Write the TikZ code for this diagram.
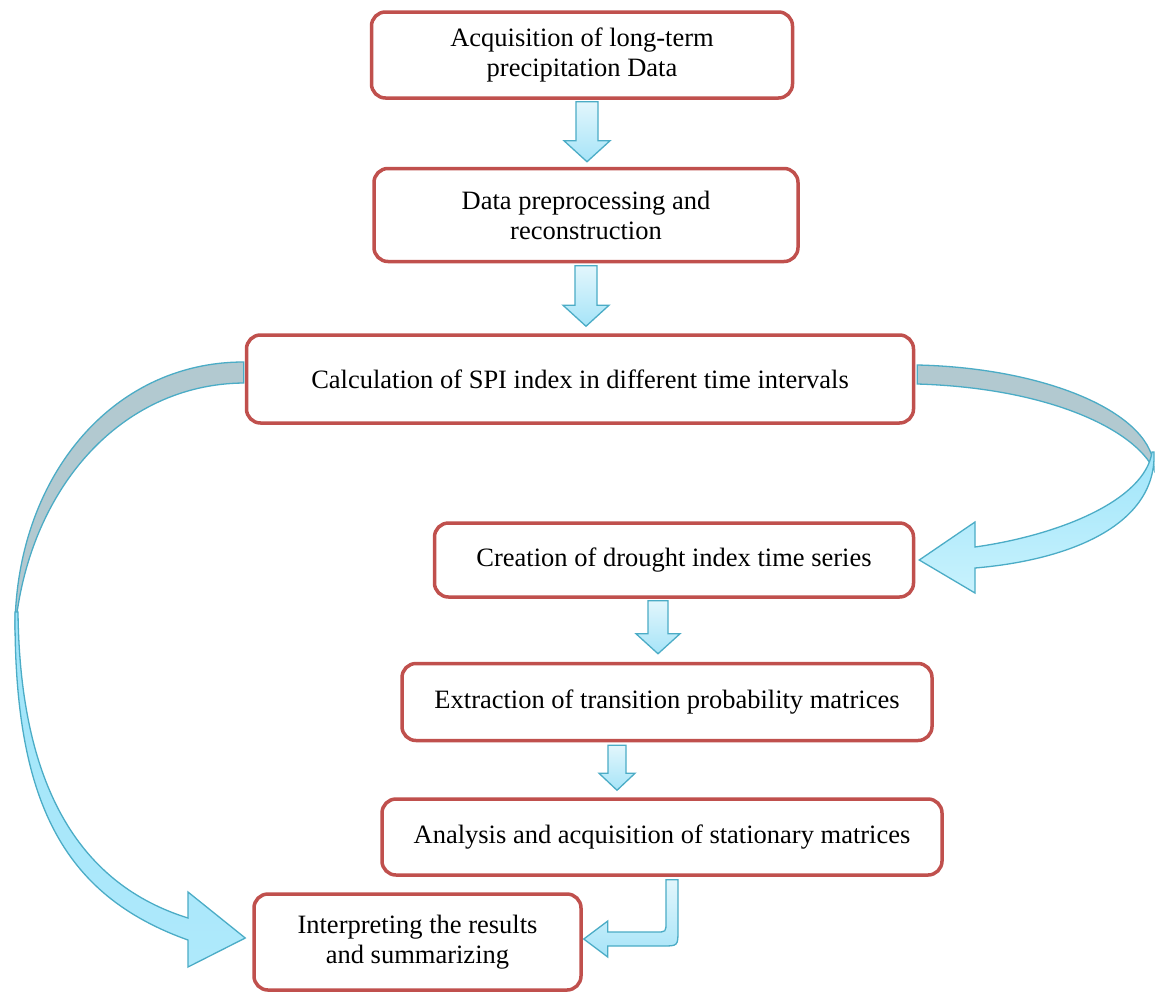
\documentclass[tikz,border=0pt]{standalone}
\usepackage{fontspec}
\setmainfont{Liberation Serif}
\usetikzlibrary{calc}
\definecolor{boxred}{RGB}{192,80,77}
\definecolor{arrline}{RGB}{75,172,198}
\definecolor{backgray}{RGB}{178,201,208}
\definecolor{cyanA}{RGB}{226,246,252}
\definecolor{cyanB}{RGB}{166,228,248}
\definecolor{cyanC}{RGB}{160,229,250}
\definecolor{cyanD}{RGB}{200,242,253}
\tikzset{
  box/.style={draw=boxred, line width=3.5pt, rounded corners=14pt, fill=white,
    align=center, inner sep=0pt, font=\fontsize{26.5}{30}\selectfont},
  darrow/.style={draw=arrline, line width=1.3pt, line join=miter, top color=cyanA, bottom color=cyanB},
  backarr/.style={draw=arrline, line width=1.3pt, fill=backgray},
  frontarr/.style={draw=arrline, line width=1.3pt, top color=cyanC, bottom color=cyanC!85!white},
  frontarrR/.style={draw=arrline, line width=1.3pt, top color=cyanC, bottom color=cyanD},
}
\newcommand{\dnarr}[5]{%
  \path[darrow] let \p1=#1, \p2=#2 in
   (\x1-#3pt,\y1) -- (\x1+#3pt,\y1) -- (\x1+#3pt,\y2+#5pt) -- (\x1+#4pt,\y2+#5pt)
   -- (\x1,\y2) -- (\x1-#4pt,\y2+#5pt) -- (\x1-#3pt,\y2+#5pt) -- cycle;}
\begin{document}
\begin{tikzpicture}[x=1pt,y=-1pt]
\useasboundingbox (0,0) rectangle (1155,993);
\fill[white] (0,0) rectangle (1155,993);

\node[box, minimum width=421pt, minimum height=86pt] (n1) at (582,55) {Acquisition of long-term\\precipitation Data};
\node[box, minimum width=424pt, minimum height=93pt] (n2) at (586,215) {Data preprocessing and\\reconstruction};
\node[box, minimum width=667pt, minimum height=88pt] (n3) at (580,379) {Calculation of SPI index in different time intervals};
\node[box, minimum width=479pt, minimum height=74pt] (n4) at (674,560) {Creation of drought index time series};
\node[box, minimum width=530pt, minimum height=77pt] (n5) at (667,702) {Extraction of transition probability matrices};
\node[box, minimum width=560pt, minimum height=76pt] (n6) at (662,837) {Analysis and acquisition of stationary matrices};
\node[box, minimum width=327pt, minimum height=96pt] (n7) at (417.5,942) {Interpreting the results\\and summarizing};

% straight block arrows
\dnarr{($(n1.south)+(5,2)$)}{($(n2.north)+(0,-5)$)}{11}{23}{21}
\dnarr{($(n2.south)+(0,2.5)$)}{($(n3.north)+(0,-7)$)}{11}{23}{21}
\dnarr{($(n4.south)+(-16,2)$)}{($(n5.north)+(0,-8)$)}{10}{22}{20}
\dnarr{($(n5.south)+(-50,3)$)}{($(n6.north)+(0,-7)$)}{9}{18}{17}

% bent arrow
\path[darrow] let \p1=($(n6.south)+(10,3)$), \p2=($(n7.east)+(1,-3)$) in
  (\x1-6pt,\y1) -- (\x1-6pt,\y2+17pt) .. controls (\x1-6pt,\y2+7pt) .. (\x1-16pt,\y2+7pt)
  -- (\x2+24pt,\y2+7pt) -- (\x2+24pt,\y2+18pt) -- (\x2,\y2) -- (\x2+24pt,\y2-18pt)
  -- (\x2+24pt,\y2-7pt) -- (\x1-10pt,\y2-7pt) .. controls (\x1+6pt,\y2-7pt) .. (\x1+6pt,\y2+9pt)
  -- (\x1+6pt,\y1) -- cycle;

% left curved arrow
\path[backarr] ($(n3.west)+(-1,-17)$) .. controls (110,362) and (15,480) .. (15,630)
  .. controls (28,490) and (120,384) .. ($(n3.west)+(-1,4)$) -- cycle;
\path[frontarr] (15,612) .. controls (14,800) and (62,895) .. (188,940) -- (188,967)
  -- ($(n7.west)+(-7,-4)$) -- (188,892) -- (188,918) .. controls (82,885) and (20,790) .. (18,612) -- cycle;

% right curved arrow
\path[backarr] ($(n3.east)+(2,-14)$) .. controls (1050,368) and (1155,415) .. (1154,470)
  .. controls (1135,430) and (1050,388) .. ($(n3.east)+(2,5)$) -- cycle;
\path[frontarrR] (1154,452) .. controls (1157,525) and (1070,560) .. (975,568) -- (975,593)
  -- ($(n4.east)+(4,0)$) -- (975,522) -- (975,547) .. controls (1060,535) and (1145,500) .. (1152,452) -- cycle;
\end{tikzpicture}
\end{document}
